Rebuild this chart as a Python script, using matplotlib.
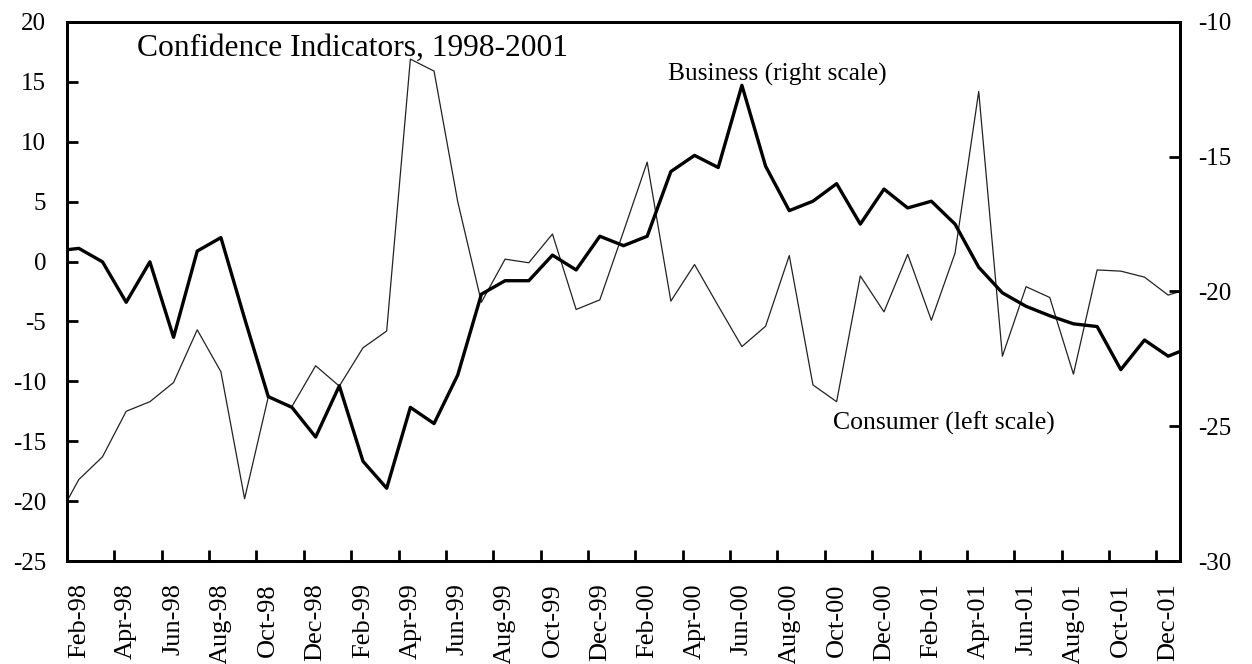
import numpy as np
import pandas as pd
import matplotlib
matplotlib.use("Agg")
import matplotlib.pyplot as plt

plt.rcParams["font.family"] = ["Liberation Serif", "DejaVu Serif"]
plt.rcParams["axes.unicode_minus"] = False

# ── Data (Jan-98 .. Jan-02; the axis shows Feb-98 .. Dec-01) ──────────────────
months = pd.date_range("1998-01-01", periods=49, freq="MS")

consumer = [-21.8,
            -18.2, -16.3, -12.5, -11.7, -10.1, -5.7, -9.2, -19.8, -11.3, -12.1, -8.7,
            -10.4, -7.2, -5.8, 16.9, 15.9, 5.0, -3.4, 0.2, -0.1, 2.3, -4.0, -3.2,
            2.5, 8.3, -3.3, -0.25, -3.7, -7.1, -5.4, 0.5, -10.3, -11.7, -1.2, -4.2,
            0.6, -4.9, 0.7, 14.2, -7.9, -2.1, -3.0, -9.4, -0.7, -0.8, -1.3, -2.8,
            -2.2]

business = [-18.5,
            -18.4, -18.9, -20.4, -18.9, -21.7, -18.5, -18.0, -21.0, -23.9, -24.3, -25.4,
            -23.5, -26.3, -27.3, -24.3, -24.9, -23.1, -20.1, -19.6, -19.6, -18.65, -19.2, -17.95,
            -18.3, -17.95, -15.55, -14.95, -15.4, -12.35, -15.35, -17.0, -16.65, -16.0, -17.5, -16.2,
            -16.9, -16.65, -17.5, -19.1, -20.05, -20.55, -20.9, -21.2, -21.3, -22.9, -21.8, -22.4,
            -22.05]

x = np.arange(len(months)) - 1          # Feb-98 sits at 0
label_idx = np.arange(1, 48, 2)          # Feb-98, Apr-98, ..., Dec-01
tick_labels = [months[i].strftime("%b-%y") for i in label_idx]

# ── Figure ────────────────────────────────────────────────────────────────
fig = plt.figure(figsize=(12.52, 6.64), dpi=100)
ax = fig.add_axes([0.0535, 0.1551, 0.889, 0.8118])
ax2 = ax.twinx()

ax.plot(x, consumer, color="#222222", linewidth=0.9)
ax2.plot(x, business, color="black", linewidth=2.4)

ax.set_xlim(-0.5, 46.5)
ax.set_ylim(-25, 20)
ax2.set_ylim(-30, -10)

ax.set_yticks(np.arange(-25, 21, 5))
ax2.set_yticks(np.arange(-30, -9, 5))

ax.set_xticks(label_idx - 1)
ax.set_xticklabels(tick_labels, rotation=90, ha="center", va="top")
ax.set_xticks(np.arange(-0.5, 46.5, 2), minor=True)

ax.tick_params(axis="x", which="major", length=0, pad=16, labelsize=19)
ax.tick_params(axis="x", which="minor", direction="in", length=8, width=2)
ax.tick_params(axis="y", direction="in", length=8, width=2, pad=15, labelsize=18)
ax2.tick_params(axis="y", direction="in", length=8, width=2, pad=13, labelsize=18)

for a in (ax, ax2):
    for s in a.spines.values():
        s.set_linewidth(2)
        s.set_color("black")

ax.text(0.063, 0.952, "Confidence Indicators, 1998-2001", transform=ax.transAxes,
        fontsize=22.7, ha="left", va="center")
ax.text(0.540, 0.902, "Business (right scale)", transform=ax.transAxes,
        fontsize=18.3, ha="left", va="center")
ax.text(0.688, 0.256, "Consumer (left scale)", transform=ax.transAxes,
        fontsize=18.5, ha="left", va="center")

fig.savefig("out.png", dpi=100)
